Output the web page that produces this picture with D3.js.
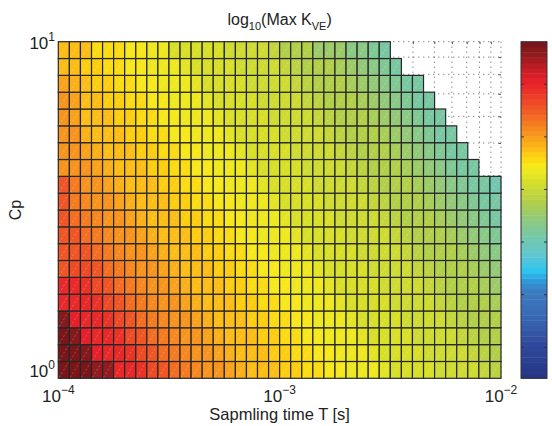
<!DOCTYPE html>
<html>
<head>
<meta charset="utf-8">
<script src="https://cdn.jsdelivr.net/npm/d3@7"></script>
<style>
  body { margin: 0; background: #fff; }
  svg { display: block; font-family: "Liberation Sans", Arial, sans-serif; }
</style>
</head>
<body>
<div id="chart"></div>
<script>
// mantissas of the log-spaced sampling grid (20 steps per decade)
const decade = [1.000, 1.122, 1.259, 1.413, 1.585, 1.778, 1.995, 2.239, 2.512, 2.818,
                3.162, 3.548, 3.981, 4.467, 5.012, 5.623, 6.310, 7.079, 7.943, 8.913];
const tEdges = [...decade.map((m) => m * 1e-4), ...decade.map((m) => m * 1e-3), 1e-2];
const cpEdges = [...decade, 10];

// colour level (0..63) of each cell, bottom row first; NaN cells at the top right are left out
const levelRows = [
  [63,63,63,61,61,55,55,54,52,51,49,48,47,46,46,45,44,43,43,43,42,42,41,41,40,40,39,39,39,38,37,37,37,37,36,36,36,36,35,34],
  [63,63,62,56,55,55,54,52,51,49,48,47,46,46,45,44,43,43,43,42,42,41,41,40,40,39,39,39,38,37,37,37,37,36,36,36,36,35,34,33],
  [63,62,56,55,55,54,52,51,49,48,47,46,46,45,44,43,43,43,42,42,41,41,40,40,39,39,39,38,37,37,37,37,36,36,36,36,35,34,33,33],
  [62,56,55,55,54,52,51,49,48,47,46,46,45,44,43,43,43,42,42,41,41,40,40,39,39,39,38,37,37,37,37,36,36,36,36,35,34,33,33,33],
  [55,55,55,54,52,51,49,48,47,46,46,45,44,43,43,43,42,42,41,41,40,40,39,39,39,38,37,37,37,37,36,36,36,36,35,34,33,33,33,32],
  [55,55,54,52,51,49,48,47,46,46,45,44,43,43,43,42,42,41,41,40,40,39,39,39,38,37,37,37,37,36,36,36,36,35,34,33,33,33,32,31],
  [51,52,52,51,49,48,47,46,46,45,44,43,43,43,42,42,41,41,40,40,39,39,39,38,37,37,37,37,36,36,36,36,35,34,33,33,33,32,31,30],
  [51,51,51,49,48,47,46,46,45,44,43,43,43,42,42,41,41,40,40,39,39,39,38,37,37,37,37,36,36,36,36,35,34,33,33,33,32,31,30,29],
  [51,51,49,48,47,46,46,45,44,43,43,43,42,42,41,41,40,40,39,39,39,38,37,37,37,37,36,36,36,36,35,34,33,33,33,32,31,30,29,28],
  [51,49,48,47,46,46,45,44,43,43,43,42,42,41,41,40,40,39,39,39,38,37,37,37,37,36,36,36,36,35,34,33,33,33,32,31,30,29,28,27],
  [51,48,47,46,46,45,44,43,43,43,42,42,41,41,40,40,39,39,39,38,37,37,37,37,36,36,36,36,35,34,33,33,33,32,31,30,29,28,27,27],
  [51,48,46,46,45,44,43,43,43,42,42,41,41,40,40,39,39,39,38,37,37,37,37,36,36,36,36,35,34,33,33,33,32,31,30,29,28,27,27,26],
  [46,46,46,45,44,43,43,43,42,42,41,41,40,40,39,39,39,38,37,37,37,37,36,36,36,36,35,34,33,33,33,32,31,30,29,28,27,27],
  [46,46,45,44,43,43,43,42,42,41,41,40,40,39,39,39,38,37,37,37,37,36,36,36,36,35,34,33,33,33,32,31,30,29,28,27,27],
  [46,46,44,43,43,43,42,42,41,41,40,40,39,39,39,38,37,37,37,37,36,36,36,36,35,34,33,33,33,32,31,30,29,28,27,27],
  [46,45,43,43,43,42,42,41,41,40,40,39,39,39,38,37,37,37,37,36,36,36,36,35,34,33,33,33,32,31,30,29,28,27,27],
  [46,45,43,43,42,42,41,41,40,40,39,39,39,38,37,37,37,37,36,36,36,36,35,34,33,33,33,32,31,30,29,28,27,27],
  [45,44,43,42,42,41,41,40,40,39,39,39,38,37,37,37,37,36,36,36,36,35,34,33,33,33,32,31,30,29,28,27,27],
  [43,43,42,42,41,41,40,40,39,39,39,38,37,37,37,37,36,36,36,36,35,34,33,33,33,32,31,30,29,28,27],
  [43,43,43,41,41,41,40,40,39,39,37,37,37,37,37,36,36,36,36,35,33,33,33,31,31,31,29,29,28,27],
];

// colormap as it looks in the picture (jet-like, 64 levels)
const paletteLevels = [0, 6, 12, 16, 18, 20, 23, 26, 28, 30, 33, 35, 37, 39, 40, 41, 42, 43, 44,
                       46, 48, 50, 52, 54, 56, 57, 58, 59, 60, 61, 62, 63];
const paletteColors = ["#283586", "#2f4a9c", "#3a6cb5", "#3b7bc0", "#2e9ad8", "#2ec4f0", "#60c7d0",
                       "#72c7b0", "#80c894", "#93c978", "#b2cf4a", "#c4d63c", "#d8df28", "#eee81e",
                       "#f6e81a", "#fbdc12", "#fdce10", "#fcbd16", "#fab019", "#f7941d", "#f47b20",
                       "#f15f24", "#ee4a26", "#eb3228", "#e6202a", "#d81f28", "#c91e25", "#b81d23",
                       "#a41c21", "#921b1f", "#841a1c", "#7a1619"];
const cbarTicks = [6, 16, 26, 36, 46, 56];

const xMajor = [1e-4, 1e-3, 1e-2];
const xMajorExp = ["\u22124", "\u22123", "\u22122"];
const yMajor = [1, 10];
const yMajorExp = ["0", "1"];
const minorSteps = [2, 3, 4, 5, 6, 7, 8, 9];

const width = 552;
const height = 426;
const plot = { left: 58.3, right: 501, top: 41.7, bottom: 378.3 };
const cbar = { left: 521, right: 547 };

const x = d3.scaleLog().domain([1e-4, 1e-2]).range([plot.left, plot.right]);
const y = d3.scaleLog().domain([1, 10]).range([plot.bottom, plot.top]);
const color = d3.scaleLinear().domain(paletteLevels).range(paletteColors);

const svg = d3
  .select("#chart")
  .append("svg")
  .attr("width", width)
  .attr("height", height);

// minor grid (only seen in the empty corner)
const xMinor = [];
[1e-4, 1e-3].forEach((d) => minorSteps.forEach((s) => xMinor.push(d * s)));
const xGridVals = [...xMinor, 1e-3, 1e-2];
const yGridVals = [...minorSteps, 10];

const grid = svg.append("g").attr("stroke", "#555").attr("stroke-width", 1)
  .attr("stroke-dasharray", "1,4");
grid.selectAll(".gx").data(xGridVals).enter().append("line")
  .attr("x1", (d) => x(d)).attr("x2", (d) => x(d))
  .attr("y1", plot.top).attr("y2", plot.bottom);
grid.selectAll(".gy").data(yGridVals).enter().append("line")
  .attr("x1", plot.left).attr("x2", plot.right)
  .attr("y1", (d) => y(d)).attr("y2", (d) => y(d));

// inward ticks on top and right
svg.append("g").attr("transform", `translate(0,${plot.top})`)
  .call(d3.axisTop(x).tickValues(xMinor).tickSize(-2.5).tickFormat(""))
  .call((g) => g.select(".domain").remove())
  .call((g) => g.selectAll("line").attr("stroke", "#555"));
svg.append("g").attr("transform", `translate(${plot.right},0)`)
  .call(d3.axisRight(y).tickValues(minorSteps).tickSize(-2.5).tickFormat(""))
  .call((g) => g.select(".domain").remove())
  .call((g) => g.selectAll("line").attr("stroke", "#555"));

// cells
const cells = [];
levelRows.forEach((row, j) => {
  row.forEach((lv, i) => cells.push({ i, j, lv }));
});

svg.append("g")
  .selectAll("rect")
  .data(cells)
  .enter()
  .append("rect")
  .attr("x", (d) => x(tEdges[d.i]))
  .attr("y", (d) => y(cpEdges[d.j + 1]))
  .attr("width", (d) => x(tEdges[d.i + 1]) - x(tEdges[d.i]))
  .attr("height", (d) => y(cpEdges[d.j]) - y(cpEdges[d.j + 1]))
  .attr("fill", (d) => color(d.lv))
  .attr("stroke", "#262626")
  .attr("stroke-width", 1.2);

// faint triangle seams of each face
svg.append("g")
  .attr("stroke", "#fff")
  .attr("stroke-opacity", 0.35)
  .attr("stroke-width", 0.7)
  .attr("stroke-dasharray", "2,2")
  .selectAll("line")
  .data(cells)
  .enter()
  .append("line")
  .attr("x1", (d) => x(tEdges[d.i]) + 1)
  .attr("y1", (d) => y(cpEdges[d.j]) - 1)
  .attr("x2", (d) => x(tEdges[d.i + 1]) - 1)
  .attr("y2", (d) => y(cpEdges[d.j + 1]) + 1);

// x tick labels
const xLab = svg.append("g").attr("fill", "#222").attr("text-anchor", "middle");
xMajor.forEach((v, k) => {
  const t = xLab.append("text").attr("x", x(v)).attr("y", 402).attr("font-size", 17);
  t.append("tspan").text("10");
  t.append("tspan").attr("font-size", 12).attr("dy", -8).text(xMajorExp[k]);
});

// y tick labels (the bottom one sits a little above its tick, as in the original)
const yLabY = [376.5, 48.5];
const yLab = svg.append("g").attr("fill", "#222").attr("text-anchor", "end");
yMajor.forEach((v, k) => {
  const t = yLab.append("text").attr("x", 55).attr("y", yLabY[k]).attr("font-size", 17);
  t.append("tspan").text("10");
  t.append("tspan").attr("font-size", 12).attr("dy", -8).text(yMajorExp[k]);
});

// axis labels
svg.append("text")
  .attr("x", (plot.left + plot.right) / 2)
  .attr("y", 419.5)
  .attr("text-anchor", "middle")
  .attr("font-size", 16.5)
  .attr("fill", "#222")
  .text("Sapmling time T [s]");

svg.append("text")
  .attr("transform", `translate(21,${(plot.top + plot.bottom) / 2}) rotate(-90)`)
  .attr("text-anchor", "middle")
  .attr("font-size", 16)
  .attr("fill", "#222")
  .text("Cp");

// title
const title = svg.append("text")
  .attr("x", (plot.left + plot.right) / 2)
  .attr("y", 24.5)
  .attr("text-anchor", "middle")
  .attr("font-size", 16)
  .attr("fill", "#222");
title.append("tspan").text("log");
title.append("tspan").attr("font-size", 11).attr("dy", 5).text("10");
title.append("tspan").attr("dy", -5).text("(Max K");
title.append("tspan").attr("font-size", 11).attr("dy", 5).text("VE");
title.append("tspan").attr("dy", -5).text(")");

// colorbar
const cb = d3.scaleLinear().domain([0, 64]).range([plot.bottom, plot.top]);
const levels = d3.range(64);
svg.append("g")
  .selectAll("rect")
  .data(levels)
  .enter()
  .append("rect")
  .attr("x", cbar.left)
  .attr("y", (d) => cb(d + 1))
  .attr("width", cbar.right - cbar.left)
  .attr("height", (d) => cb(d) - cb(d + 1) + 0.4)
  .attr("fill", (d) => color(d));

svg.append("rect")
  .attr("x", cbar.left)
  .attr("y", plot.top)
  .attr("width", cbar.right - cbar.left)
  .attr("height", plot.bottom - plot.top)
  .attr("fill", "none")
  .attr("stroke", "#333")
  .attr("stroke-width", 1);

svg.append("g").attr("transform", `translate(${cbar.left},0)`)
  .call(d3.axisRight(cb).tickValues(cbarTicks).tickSize(3).tickFormat(""))
  .call((g) => g.select(".domain").remove())
  .call((g) => g.selectAll("line").attr("stroke", "#333"));
svg.append("g").attr("transform", `translate(${cbar.right},0)`)
  .call(d3.axisLeft(cb).tickValues(cbarTicks).tickSize(3).tickFormat(""))
  .call((g) => g.select(".domain").remove())
  .call((g) => g.selectAll("line").attr("stroke", "#333"));
</script>
</body>
</html>
